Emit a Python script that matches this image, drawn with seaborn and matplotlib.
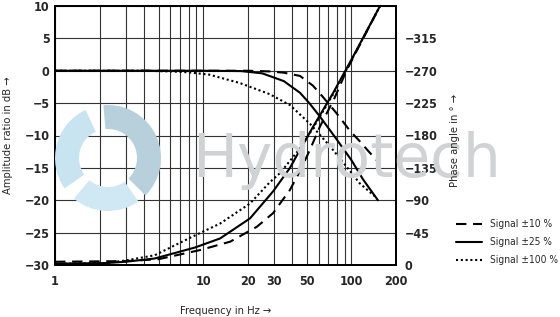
import numpy as np
import pandas as pd
import matplotlib
matplotlib.use("Agg")
import matplotlib.pyplot as plt
import matplotlib.ticker as mticker
import matplotlib.transforms as mtrans
from matplotlib.patches import Wedge
from matplotlib import font_manager
import seaborn as sns

# ---------------- data ----------------
series_names = ["Signal ±10 %", "Signal ±25 %", "Signal ±100 %"]

# amplitude ratio (dB)
amp10_f = [1, 10, 20, 28, 35, 45, 55, 64, 79, 98, 114, 130, 148]
amp10_v = [0, 0, 0, -0.1, -0.3, -0.8, -2.3, -4.0, -6.5, -9.3, -10.9, -12.4, -13.8]
amp25_f = [1, 10, 18, 25, 28, 35, 45, 52, 61, 79, 100, 120, 151]
amp25_v = [0, 0, -0.05, -0.4, -0.8, -1.6, -3.4, -5.0, -7.0, -10.5, -13.8, -16.8, -20.0]
amp100_f = [1, 4, 6, 8, 11, 17.7, 28, 38.5, 52.6, 72, 98, 114, 144]
amp100_v = [0, 0, -0.1, -0.25, -0.6, -1.9, -3.6, -5.3, -8.2, -11.7, -15.5, -17.4, -19.4]

# phase angle (degrees)
ph10_f = [1, 3, 5, 9.5, 15.2, 23, 29.6, 33, 38.5, 45, 52.5, 61.4, 77, 93, 156]
ph10_v = [-4.5, -5.4, -8.1, -20.7, -32.4, -53.1, -72, -85.5, -104.4, -130.5, -160.2, -192.6, -232.2, -270.9, -360]
ph25_f = [1, 2.2, 3, 4.7, 8.8, 13, 20.7, 29.7, 38.5, 45, 55.3, 75, 100, 156]
ph25_v = [-1.8, -2.7, -4.5, -9, -24.3, -36.9, -64.8, -102.6, -135, -160.2, -192.6, -238.5, -285.3, -360]
ph100_f = [1, 2.2, 3, 4.7, 8.5, 13, 20.7, 28.2, 33, 45, 55, 75, 100, 156]
ph100_v = [-1.8, -2.7, -6.3, -13.5, -39.6, -57.6, -85.5, -115.2, -127.8, -162, -189.9, -236.7, -284.4, -360]

x_ticks = [1, 10, 20, 30, 50, 100, 200]
y_ticks = [10, 5, 0, -5, -10, -15, -20, -25, -30]
phase_ticks = [0, -45, -90, -135, -180, -225, -270, -315]


def long_df(fs, vs):
    rows = []
    for name, f, v in zip(series_names, fs, vs):
        for a, b in zip(f, v):
            rows.append({"freq": a, "value": b, "series": name})
    return pd.DataFrame(rows)


amp_df = long_df([amp10_f, amp25_f, amp100_f], [amp10_v, amp25_v, amp100_v])
ph_df = long_df([ph10_f, ph25_f, ph100_f], [ph10_v, ph25_v, ph100_v])

# ---------------- style ----------------
sns.set_theme(style="white")

# look for a condensed / narrow sans font
cands = [f for f in font_manager.fontManager.ttflist
         if ("ondensed" in f.fname or "Narrow" in f.fname or f.stretch in ("condensed", "semi-condensed"))
         and "Sans" in f.name and "Mono" not in f.name and "CJK" not in f.name]
FONT, STRETCH = "DejaVu Sans", "normal"
FS_TICK, FS_LAB, FS_LEG = 8.0, 7.2, 6.6
if cands:
    pref = [f for f in cands if "DejaVu" in f.name] or [f for f in cands if "Liberation" in f.name] or cands
    FONT, STRETCH = pref[0].name, pref[0].stretch
    FS_TICK, FS_LAB, FS_LEG = 9.0, 8.0, 7.3
plt.rcParams['font.family'] = [FONT, 'DejaVu Sans']
plt.rcParams['font.stretch'] = STRETCH
plt.rcParams['axes.unicode_minus'] = True

DPI = 100
fig = plt.figure(figsize=(5.6, 3.17), dpi=DPI)
fig.patch.set_facecolor("white")

# watermark (behind everything)
ident = mtrans.IdentityTransform()
cx, cy = 108, 317 - 158
for t1, t2, col in [(-45, 95, "#b8cfdc"), (115, 215, "#c8e4f1"), (230, 305, "#cfe8f4")]:
    fig.patches.append(Wedge((cx, cy), 53, t1, t2, width=24, facecolor=col,
                             edgecolor="none", transform=ident, zorder=0))
fig.text(347 / 560, 1 - 160 / 317, "Hydrotech", fontsize=43, color="#d0d2d4",
         ha="center", va="center", family=["DejaVu Sans"], fontstretch="normal", zorder=0)

ax = fig.add_axes([55 / 560, 1 - 265 / 317, 341 / 560, 259 / 317])
ax.patch.set_alpha(0)

dash_map = {"Signal ±10 %": (5, 3.2), "Signal ±25 %": "", "Signal ±100 %": (1, 1.3)}

sns.lineplot(data=amp_df, x="freq", y="value", style="series", dashes=dash_map,
             color="black", lw=1.5, estimator=None, sort=False, ax=ax, legend=True)
ax.set_xscale("log")
ax.set_xlim(1, 200)
ax.set_ylim(-30, 10)

ax2 = ax.twinx()
ax2.patch.set_alpha(0)
sns.lineplot(data=ph_df, x="freq", y="value", style="series", dashes=dash_map,
             color="black", lw=1.5, estimator=None, sort=False, ax=ax2, legend=False)
ax2.set_ylim(0, -360)
ax2.set_xlim(1, 200)

# ticks
ax.set_xticks(x_ticks)
ax.set_xticklabels([str(t) for t in x_ticks])
ax.xaxis.set_minor_locator(mticker.LogLocator(base=10, subs=np.arange(2, 10), numticks=20))
ax.xaxis.set_minor_formatter(mticker.NullFormatter())
ax.set_yticks(y_ticks)
ax.set_yticklabels([str(t).replace("-", "\u2212") for t in y_ticks])
ax2.set_yticks(phase_ticks)
ax2.set_yticklabels([str(t).replace("-", "\u2212") for t in phase_ticks])

for a in (ax, ax2):
    a.tick_params(axis="both", which="both", length=0, labelsize=FS_TICK, pad=4)
    for lab in a.get_xticklabels() + a.get_yticklabels():
        lab.set_fontweight("bold")
ax.tick_params(axis="x", pad=7)
ax2.tick_params(axis="y", pad=6)

ax.grid(True, which="both", axis="x", color="#333333", lw=0.8)
ax.grid(True, which="major", axis="y", color="#333333", lw=0.8)
ax2.grid(False)

for a in (ax, ax2):
    for s in a.spines.values():
        s.set_color("black")
        s.set_linewidth(1.3)

ax.set_xlabel("Frequency in Hz \u2192", fontsize=FS_LAB, labelpad=13)
ax.set_ylabel("Amplitude ratio in dB \u2192", fontsize=FS_LAB, labelpad=8)
ax2.set_ylabel("")
fig.text(455 / 560, 1 - 140 / 317, "Phase angle in \u00b0 \u2192", rotation=90,
         fontsize=FS_LAB, ha="center", va="center")

# legend outside on right
handles, labels = ax.get_legend_handles_labels()
ax.get_legend().remove()
leg = fig.legend(handles, labels, loc="upper left", bbox_to_anchor=(452 / 560, 1 - 215 / 317),
                 frameon=False, fontsize=FS_LEG, handlelength=2.6, labelspacing=0.8,
                 handletextpad=0.7, borderaxespad=0)
for h in leg.get_lines():
    h.set_color("black")
    h.set_linewidth(1.5)

fig.savefig("out.png", dpi=DPI)
